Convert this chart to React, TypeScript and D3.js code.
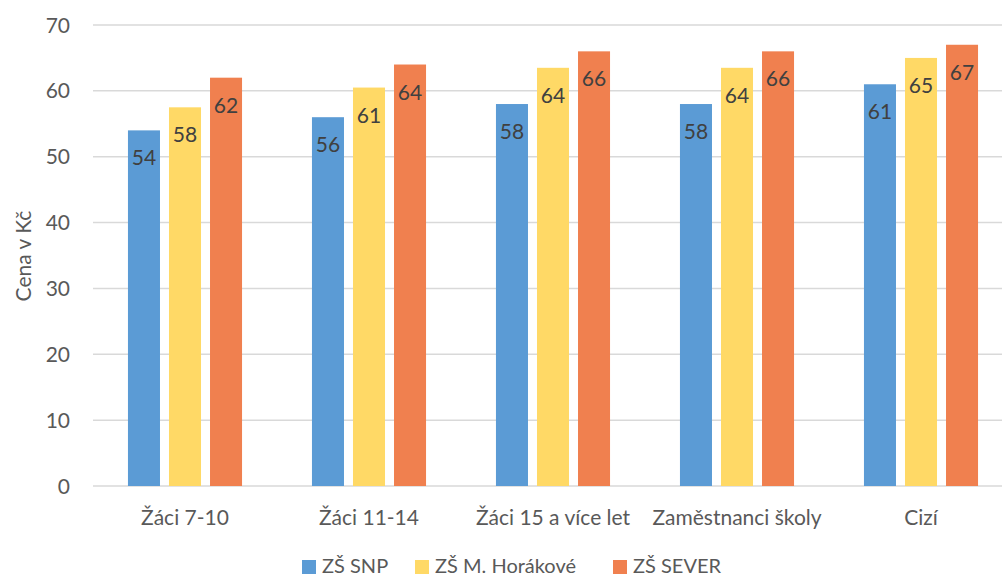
import React from "react";
import * as d3 from "d3";

const categories = ["Žáci 7-10", "Žáci 11-14", "Žáci 15 a více let", "Zaměstnanci školy", "Cizí"];
const seriesNames = ["ZŠ SNP", "ZŠ M. Horákové", "ZŠ SEVER"];
const snp = [54, 56, 58, 58, 61];
const horakove = [57.5, 60.5, 63.5, 63.5, 65];
const sever = [62, 64, 66, 66, 67];
const yTicks = [0, 10, 20, 30, 40, 50, 60, 70];
const colors = ["#5B9BD5", "#FFD966", "#F0804F"];
const yTitle = "Cena v Kč";

const W = 1002;
const H = 578;
const FONT = "Lato, 'Open Sans', sans-serif";

export default function App() {
  const series = [snp, horakove, sever];
  const x = d3.scaleBand<string>().domain(categories).range([93, 1013]).paddingInner(0.38).paddingOuter(0.19);
  const xi = d3.scaleBand<string>().domain(seriesNames).range([0, x.bandwidth()]).paddingInner(0.2195).paddingOuter(0);
  const y = d3.scaleLinear().domain([0, 70]).range([486, 25]);

  const legendX = [302, 415, 613];

  return (
    <svg width={W} height={H} style={{ position: "fixed", left: 0, top: 0, background: "#fff" }} fontFamily={FONT}>
      <rect x={0} y={0} width={W} height={H} fill="#fff" />
      {yTicks.map((t) => (
        <g key={t}>
          <line x1={93} x2={W} y1={y(t)} y2={y(t)} stroke="#D9D9D9" strokeWidth={1.5} />
          <text x={70} y={y(t)} dy="0.36em" textAnchor="end" fontSize={21} fill="#595959">{t}</text>
        </g>
      ))}
      {categories.map((c, ci) => (
        <g key={c} transform={`translate(${x(c)},0)`}>
          {series.map((s, si) => {
            const v = s[ci];
            const bx = xi(seriesNames[si]) as number;
            return (
              <g key={si}>
                <rect x={bx} y={y(v)} width={xi.bandwidth()} height={y(0) - y(v)} fill={colors[si]} />
                <text x={bx + xi.bandwidth() / 2} y={y(v) + 35} textAnchor="middle" fontSize={21} fill="#404040">
                  {Math.round(v)}
                </text>
              </g>
            );
          })}
          <text x={x.bandwidth() / 2} y={525} textAnchor="middle" fontSize={21} fill="#595959">{c}</text>
        </g>
      ))}
      <text transform={`translate(31,256) rotate(-90)`} textAnchor="middle" fontSize={21} fill="#595959">{yTitle}</text>
      {seriesNames.map((n, i) => (
        <g key={n}>
          <rect x={legendX[i]} y={560} width={14} height={14} fill={colors[i]} />
          <text x={legendX[i] + 20} y={573} fontSize={20} fill="#595959">{n}</text>
        </g>
      ))}
    </svg>
  );
}
